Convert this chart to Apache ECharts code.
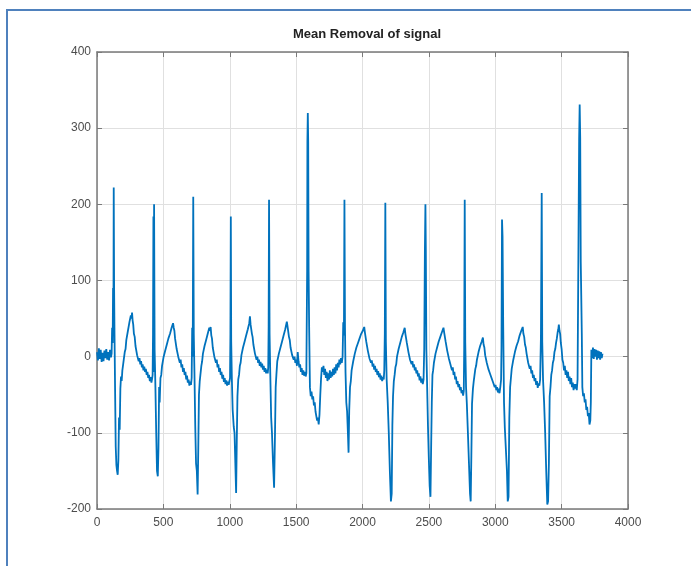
<!DOCTYPE html>
<html>
<head>
<meta charset="utf-8">
<script src="https://cdn.jsdelivr.net/npm/echarts@6/dist/echarts.min.js"></script>
<style>
  html, body { margin: 0; padding: 0; background: #fff; }
  #frame { position: absolute; left: 6px; top: 9px; width: 700px; height: 600px;
           border-left: 2px solid #4f81bd; border-top: 2px solid #4f81bd; }
  #main { position: absolute; left: 0; top: 0; width: 691px; height: 566px; }
</style>
</head>
<body>
<div id="frame"></div>
<div id="main"></div>
<script>
// ECG after mean removal, [sample, amplitude]
var baselineStart = [[0,6],[7,-5],[14,11],[21,-3],[28,9],[35,-7],[42,5],[49,-6],[56,8],[63,-2],[70,10],[77,-4],[84,6],[91,-5],[98,9],[105,-1],[110,4]];
var beat01 = [[114,38],[118,18],[121,90],[124,58],[126,222],[129,88],[132,28],[136,-40],[141,-118],[146,-142],[151,-150],[156,-155],[161,-136],[166,-80],[171,-96],[176,-42],[181,-26],[186,-32],[191,-18],[197,-10],[203,-2],[209,6],[215,10],[221,22],[227,24],[233,34],[239,36],[245,46],[250,44],[255,54],[260,50],[264,58],[268,48],[273,42],[278,30],[284,26],[290,14],[296,12],[302,2],[308,4],[314,-6],[320,-2],[326,-10],[332,-6],[338,-14],[344,-10],[350,-18],[356,-13],[362,-20],[368,-16],[374,-24],[380,-20],[386,-28],[392,-24],[398,-32],[404,-27],[410,-34],[415,-29]];
var beat02 = [[419,-24],[422,30],[425,184],[428,-20],[430,200],[434,10],[440,-40],[446,-100],[452,-150],[458,-157],[463,-120],[468,-40],[472,-60],[478,-28],[484,-24],[490,-12],[496,-10],[502,0],[508,-2],[514,8],[520,6],[526,16],[532,14],[538,24],[544,22],[550,30],[556,30],[562,38],[568,36],[573,44],[578,38],[583,34],[588,24],[594,22],[600,10],[606,10],[612,0],[618,2],[624,-8],[630,-4],[636,-14],[642,-10],[648,-20],[654,-15],[660,-24],[666,-20],[672,-30],[678,-25],[684,-34],[690,-30],[696,-38],[702,-33],[708,-37]];
var beat03 = [[713,-28],[717,38],[721,0],[725,210],[729,30],[734,-20],[740,-90],[746,-140],[752,-150],[758,-181],[763,-120],[768,-50],[774,-32],[780,-22],[786,-12],[792,-6],[798,4],[804,4],[810,14],[816,14],[822,22],[828,22],[834,30],[840,30],[846,38],[851,34],[856,39],[861,28],[866,24],[872,12],[878,10],[884,0],[890,2],[896,-8],[902,-4],[908,-14],[914,-10],[920,-20],[926,-15],[932,-24],[938,-20],[944,-29],[950,-24],[956,-33],[962,-28],[968,-36],[974,-31],[980,-38],[986,-33],[992,-37],[998,-32]];
var beat04 = [[1002,-28],[1005,30],[1008,184],[1011,20],[1016,-30],[1022,-70],[1030,-92],[1036,-100],[1042,-140],[1048,-179],[1053,-110],[1058,-52],[1064,-30],[1070,-24],[1076,-12],[1082,-8],[1088,2],[1094,2],[1100,12],[1106,10],[1112,20],[1118,18],[1124,28],[1130,28],[1136,36],[1142,36],[1147,44],[1152,53],[1157,42],[1162,40],[1167,30],[1172,26],[1178,16],[1184,14],[1190,4],[1196,6],[1202,-4],[1208,0],[1214,-8],[1220,-4],[1226,-12],[1232,-7],[1238,-14],[1244,-9],[1250,-17],[1256,-12],[1262,-20],[1268,-15],[1274,-22],[1280,-17],[1286,-22]];
var beat05 = [[1290,-14],[1293,40],[1296,206],[1300,30],[1305,-20],[1312,-80],[1318,-100],[1326,-140],[1334,-172],[1340,-110],[1346,-40],[1352,-22],[1358,-6],[1364,-6],[1370,4],[1376,2],[1382,12],[1388,10],[1394,20],[1400,18],[1406,28],[1412,28],[1418,36],[1424,38],[1430,46],[1435,40],[1440,38],[1446,26],[1452,22],[1458,12],[1464,10],[1470,2],[1476,4],[1482,-4],[1488,0],[1494,-8],[1500,-4],[1506,-12],[1512,6],[1518,-6],[1524,-14],[1530,-10],[1536,-20],[1542,-15],[1548,-24],[1554,-18],[1560,-25],[1566,-20],[1572,-26],[1577,-22]];
var beat06 = [[1581,-20],[1583,112],[1585,282],[1588,320],[1591,282],[1594,112],[1598,40],[1604,-40],[1610,-52],[1616,-46],[1622,-56],[1628,-52],[1634,-64],[1640,-60],[1646,-72],[1652,-70],[1658,-84],[1664,-80],[1670,-89],[1676,-76],[1682,-50],[1688,-28],[1694,-14],[1700,-20],[1706,-12],[1712,-24],[1718,-16],[1724,-28],[1730,-20],[1736,-32],[1742,-22],[1748,-30],[1754,-18],[1760,-28],[1766,-20],[1772,-26],[1778,-16],[1784,-24],[1790,-14],[1796,-22],[1802,-10],[1808,-18],[1814,-8],[1820,-14],[1826,-4],[1832,-10],[1838,-2],[1844,-8],[1850,0]];
var beat07 = [[1855,45],[1860,28],[1864,206],[1868,40],[1872,-20],[1878,-60],[1884,-72],[1890,-100],[1895,-126],[1900,-70],[1906,-40],[1912,-32],[1918,-18],[1924,-18],[1930,-6],[1936,-6],[1942,4],[1948,2],[1954,12],[1960,10],[1966,18],[1972,16],[1978,24],[1984,22],[1990,30],[1996,28],[2002,34],[2008,32],[2013,39],[2018,32],[2023,30],[2028,20],[2034,18],[2040,8],[2046,8],[2052,-2],[2058,0],[2064,-8],[2070,-5],[2076,-13],[2082,-9],[2088,-17],[2094,-12],[2100,-20],[2106,-16],[2112,-24],[2118,-19],[2124,-27],[2130,-22],[2136,-30],[2142,-25],[2148,-32],[2154,-27],[2160,-30]];
var beat08 = [[2164,-18],[2168,30],[2172,202],[2176,20],[2182,-30],[2190,-60],[2198,-100],[2206,-150],[2214,-190],[2220,-180],[2225,-90],[2230,-52],[2236,-32],[2242,-24],[2248,-14],[2254,-10],[2260,0],[2266,0],[2272,10],[2278,8],[2284,18],[2290,16],[2296,26],[2302,24],[2308,32],[2313,30],[2318,38],[2323,30],[2328,28],[2334,18],[2340,16],[2346,6],[2352,6],[2358,-4],[2364,-2],[2370,-10],[2376,-6],[2382,-14],[2388,-10],[2394,-18],[2400,-14],[2406,-22],[2412,-18],[2418,-26],[2424,-22],[2430,-31],[2436,-26],[2442,-34],[2448,-29],[2454,-36],[2460,-30]];
var beat09 = [[2465,10],[2470,140],[2474,200],[2477,140],[2481,10],[2487,-40],[2493,-90],[2499,-130],[2506,-170],[2512,-184],[2517,-120],[2522,-60],[2527,-24],[2532,-18],[2538,-8],[2544,-6],[2550,4],[2556,4],[2562,12],[2568,12],[2574,20],[2580,18],[2586,26],[2592,24],[2598,32],[2604,30],[2610,38],[2615,32],[2620,30],[2626,20],[2632,18],[2638,8],[2644,6],[2650,-2],[2656,-2],[2662,-10],[2668,-8],[2674,-18],[2680,-14],[2686,-24],[2692,-20],[2698,-30],[2704,-26],[2710,-36],[2716,-32],[2722,-40],[2728,-36],[2734,-44],[2740,-40],[2746,-48],[2752,-44],[2758,-51],[2763,-45]];
var beat10 = [[2766,10],[2770,206],[2774,20],[2780,-40],[2786,-62],[2794,-100],[2802,-140],[2810,-180],[2815,-190],[2820,-130],[2825,-62],[2832,-42],[2838,-32],[2844,-24],[2850,-16],[2856,-12],[2862,-4],[2868,-2],[2874,6],[2880,6],[2886,14],[2892,12],[2898,20],[2903,18],[2907,25],[2912,16],[2918,12],[2924,2],[2930,0],[2936,-8],[2942,-8],[2948,-16],[2954,-14],[2960,-22],[2966,-20],[2972,-28],[2978,-26],[2984,-34],[2990,-32],[2996,-40],[3002,-37],[3008,-44],[3014,-40],[3020,-47],[3026,-42],[3032,-48],[3038,-40]];
var beat11 = [[3044,-30],[3047,12],[3051,180],[3055,157],[3060,40],[3066,-60],[3072,-93],[3080,-93],[3088,-150],[3094,-190],[3100,-184],[3106,-80],[3112,-40],[3118,-28],[3124,-16],[3130,-14],[3136,-4],[3142,-4],[3148,6],[3154,4],[3160,14],[3166,12],[3172,20],[3178,20],[3184,28],[3190,26],[3196,34],[3202,32],[3207,39],[3212,30],[3218,26],[3224,16],[3230,12],[3236,4],[3242,2],[3248,-8],[3254,-6],[3260,-16],[3266,-12],[3272,-22],[3278,-18],[3284,-28],[3290,-24],[3296,-32],[3302,-28],[3308,-37],[3314,-32],[3320,-41],[3326,-35],[3332,-38]];
var beat12 = [[3338,-30],[3344,25],[3350,215],[3354,20],[3360,-30],[3368,-60],[3376,-100],[3384,-150],[3392,-194],[3398,-190],[3404,-140],[3410,-52],[3416,-40],[3422,-24],[3428,-18],[3434,-8],[3440,-4],[3446,6],[3452,10],[3458,18],[3464,24],[3470,32],[3475,36],[3479,42],[3484,34],[3489,30],[3494,18],[3500,10],[3506,-4],[3512,-8],[3518,-18],[3524,-12],[3530,-24],[3536,-18],[3542,-28],[3548,-20],[3554,-32],[3560,-26],[3566,-36],[3572,-28],[3578,-40],[3584,-34],[3590,-44],[3596,-36],[3602,-42],[3608,-36],[3614,-44]];
var beat13 = [[3620,-30],[3626,125],[3632,287],[3636,331],[3640,287],[3644,125],[3648,78],[3652,30],[3656,-40],[3662,-52],[3668,-48],[3674,-60],[3680,-56],[3686,-70],[3692,-66],[3698,-78],[3704,-74],[3710,-89],[3716,-84],[3720,-60],[3724,9],[3730,-2],[3736,12],[3742,-3],[3748,10],[3754,0],[3760,9],[3766,-4],[3772,8],[3778,-2],[3784,7],[3790,-4],[3796,6],[3802,-2],[3808,4]];

var xTicks = [0, 500, 1000, 1500, 2000, 2500, 3000, 3500, 4000];
var yTicks = [-200, -100, 0, 100, 200, 300, 400];

var signal = [].concat(baselineStart, beat01, beat02, beat03, beat04, beat05, beat06,
  beat07, beat08, beat09, beat10, beat11, beat12, beat13);

var chart = echarts.init(document.getElementById('main'), null, { renderer: 'canvas' });

var labelFont = { color: '#4d4d4d', fontSize: 12, fontFamily: 'Liberation Sans',
  formatter: function (v) { return String(v); } };
var boxLine = { show: true, onZero: false, lineStyle: { color: '#7a7a7a', width: 1.5 } };
var tickIn = { show: true, inside: true, length: 5, lineStyle: { color: '#7a7a7a' } };
var gridLine = { show: true, lineStyle: { color: '#e0e0e0', width: 1 } };

var option = {
  animation: false,
  backgroundColor: 'transparent',
  title: {
    text: 'Mean Removal of signal',
    left: 362,
    top: 23,
    textAlign: 'center',
    textStyle: { fontFamily: 'Liberation Sans', fontWeight: 'bold', fontSize: 13, color: '#222' }
  },
  grid: { left: 97, right: 63, top: 52, bottom: 57 },
  xAxis: [
    {
      type: 'value', min: xTicks[0], max: xTicks[xTicks.length - 1], interval: 500,
      position: 'bottom',
      axisLine: boxLine,
      axisTick: tickIn,
      axisLabel: Object.assign({ margin: 8 }, labelFont),
      splitLine: gridLine
    },
    {
      type: 'value', min: xTicks[0], max: xTicks[xTicks.length - 1], interval: 500,
      position: 'top',
      axisLine: boxLine,
      axisTick: tickIn,
      axisLabel: { show: false },
      splitLine: { show: false }
    }
  ],
  yAxis: [
    {
      type: 'value', min: yTicks[0], max: yTicks[yTicks.length - 1], interval: 100,
      position: 'left',
      axisLine: boxLine,
      axisTick: tickIn,
      axisLabel: Object.assign({ margin: 6 }, labelFont),
      splitLine: gridLine
    },
    {
      type: 'value', min: yTicks[0], max: yTicks[yTicks.length - 1], interval: 100,
      position: 'right',
      axisLine: boxLine,
      axisTick: tickIn,
      axisLabel: { show: false },
      splitLine: { show: false }
    }
  ],
  series: [
    {
      type: 'line',
      data: signal,
      showSymbol: false,
      xAxisIndex: 0,
      yAxisIndex: 0,
      lineStyle: { color: '#0072bd', width: 1.8 },
      silent: true
    }
  ]
};

chart.setOption(option);
</script>
</body>
</html>
